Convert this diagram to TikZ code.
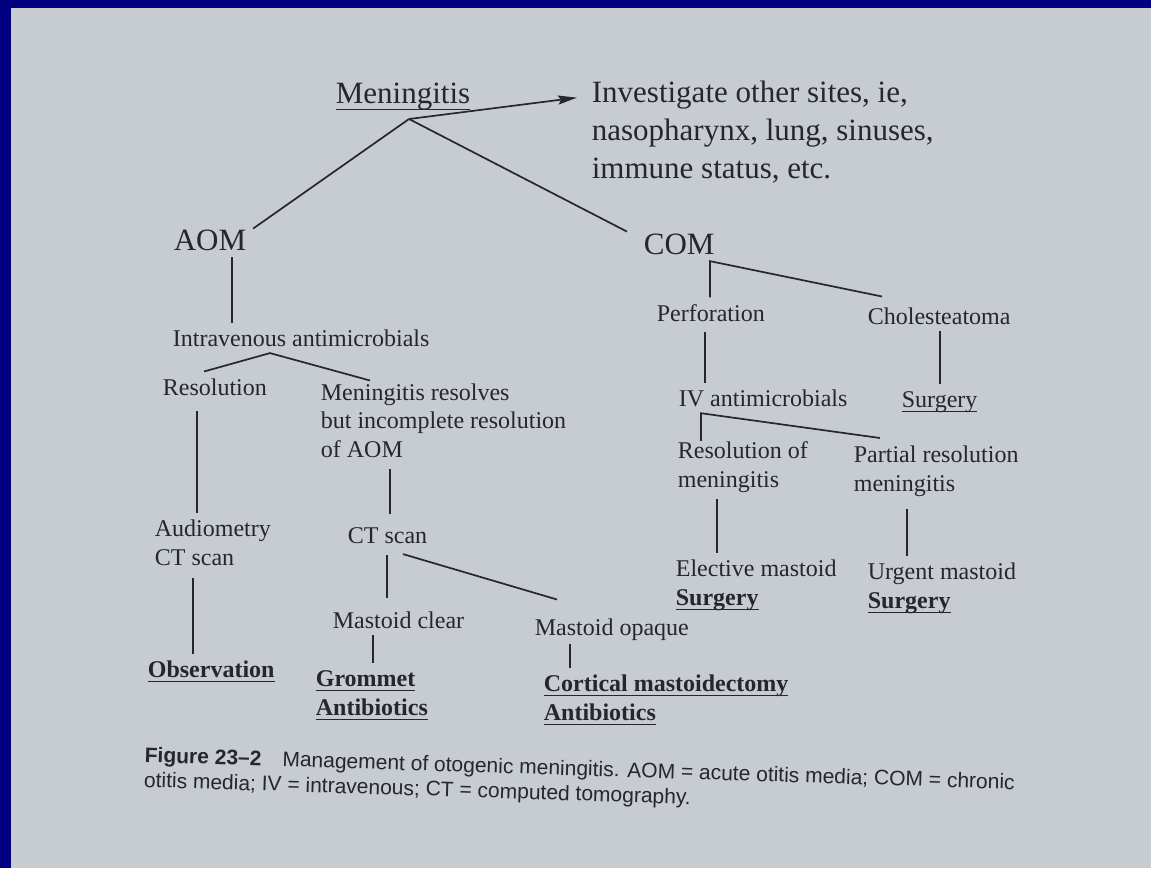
\documentclass[tikz,border=0pt]{standalone}
\usepackage{fontspec}
\setmainfont{Liberation Serif}
\newfontfamily\capfont{Liberation Sans}
\usetikzlibrary{arrows.meta}
\definecolor{ink}{RGB}{38,38,44}
\definecolor{paper}{RGB}{199,204,209}
\definecolor{slide}{RGB}{0,0,128}
\newcommand{\ulbox}[2][5pt]{\setbox0=\hbox{#2}\rlap{\rule[-#1]{\wd0}{1.4pt}}\box0}

\begin{document}
\begin{tikzpicture}[x=1pt, y=-1pt, color=ink, line width=1.7pt,
  big/.style={font=\fontsize{31}{38}\selectfont, anchor=base west, align=left, inner xsep=0pt, inner ysep=6pt},
  lbl/.style={font=\fontsize{24}{28.5}\selectfont, anchor=base west, align=left, inner xsep=0pt, inner ysep=6pt},
  bold/.style={lbl, font=\fontsize{24}{29}\selectfont\bfseries},
  tip/.style={-{Stealth[length=19pt, width=9pt, inset=3pt]}}]

\useasboundingbox (0,0) rectangle (1151,868);
\fill [paper] (0,0) rectangle (1151,868);
\fill [slide] (0,0) rectangle (11,868);
\fill [slide] (0,0) rectangle (1151,8);

\node [big] (men) at (335,103) {\ulbox[7pt]{Meningitis}};
\node [big] (inv) at (591,178) {Investigate other sites, ie,\\nasopharynx, lung, sinuses,\\immune status, etc.};
\node [big] (aom) at (173,250) {AOM};
\node [big] (com) at (643,254) {COM};

\node [lbl] (ivam) at (172,346) {Intravenous antimicrobials};
\node [lbl] (res) at (162,395) {Resolution};
\node [lbl] (mres) at (320,457) {Meningitis resolves\\but incomplete resolution\\of AOM};
\node [lbl] (aud) at (154,565) {Audiometry\\CT scan};
\node [lbl] (ct) at (347,543) {CT scan};
\node [bold] (obs) at (147,677) {\ulbox{Observation}};
\node [lbl] (mcl) at (332,628) {Mastoid clear};
\node [lbl] (mop) at (534,635) {Mastoid opaque};
\node [bold] (grom) at (315,715) {\ulbox{Grommet}\\\ulbox{Antibiotics}};
\node [bold] (cort) at (543,720) {\ulbox{Cortical mastoidectomy}\\\ulbox{Antibiotics}};

\node [lbl] (perf) at (656,321) {Perforation};
\node [lbl] (chol) at (867,324) {Cholesteatoma};
\node [lbl] (ivc) at (678,406) {IV antimicrobials};
\node [lbl] (surg) at (901,407) {\ulbox{Surgery}};
\node [lbl] (rmen) at (677,487) {Resolution of\\meningitis};
\node [lbl] (pmen) at (853,491) {Partial resolution\\meningitis};
\node [lbl] (ems) at (675,605) {Elective mastoid\\\textbf{\ulbox{Surgery}}};
\node [lbl] (ums) at (867,608) {Urgent mastoid\\\textbf{\ulbox{Surgery}}};

\node [font=\capfont\fontsize{21}{25}\selectfont, anchor=base west, align=left, inner sep=0pt, rotate=-1.8] (cap) at (143,787) {\textbf{Figure 23–2}\quad Management of otogenic meningitis. AOM = acute otitis media; COM = chronic\\otitis media; IV = intravenous; CT = computed tomography.};

\coordinate (mj) at ([shift={(6,16)}]men.base);
\draw [tip] (mj) -- ([shift={(-14,24)}]inv.north west);
\draw (mj) -- ([shift={(6,6)}]aom.north east);
\draw (mj) -- ([shift={(-16,5)}]com.north west);

\draw ([xshift=59]aom.south west) -- ([xshift=59]aom.south west |- ivam.north);
\draw ([xshift=42]res.north west) -- ([xshift=98]ivam.south west) -- ([shift={(50,4)}]mres.north west);
\draw ([shift={(35,9)}]res.south west) -- ([xshift=35]res.south west |- aud.north);
\draw ([shift={(39,6)}]aud.south west) -- ([xshift=39]aud.south west |- obs.north);
\draw ([shift={(70,5)}]mres.south west) -- ([shift={(70,-6)}]mres.south west |- ct.north);
\draw ([shift={(40,5)}]ct.south west) -- ([shift={(40,-7)}]ct.south west |- mcl.north);
\draw ([shift={(56,4)}]ct.south west) -- ([shift={(23,-12)}]mop.north west);
\draw ([xshift=41]mcl.south west) -- ([xshift=41]mcl.south west |- grom.north);
\draw ([shift={(36,-3)}]mop.south west) -- ([xshift=36]mop.south west |- cort.north);

\coordinate (cj) at ([xshift=67]com.south west);
\draw (cj |- perf.north) -- (cj) -- ([shift={(15,-4)}]chol.north west);
\draw ([shift={(49,4)}]perf.south west) -- ([xshift=49]perf.south west |- ivc.north);
\draw ([xshift=73]chol.south west) -- ([xshift=73]chol.south west |- surg.north);

\coordinate (ij) at ([xshift=23]ivc.south west);
\draw ([yshift=-6]ij |- rmen.north) -- (ij) -- ([shift={(27,-1)}]pmen.north west);
\draw ([xshift=40]rmen.south west) -- ([xshift=40]rmen.south west |- ems.north);
\draw ([shift={(54,6)}]pmen.south west) -- ([xshift=54]pmen.south west |- ums.north);
\end{tikzpicture}
\end{document}
